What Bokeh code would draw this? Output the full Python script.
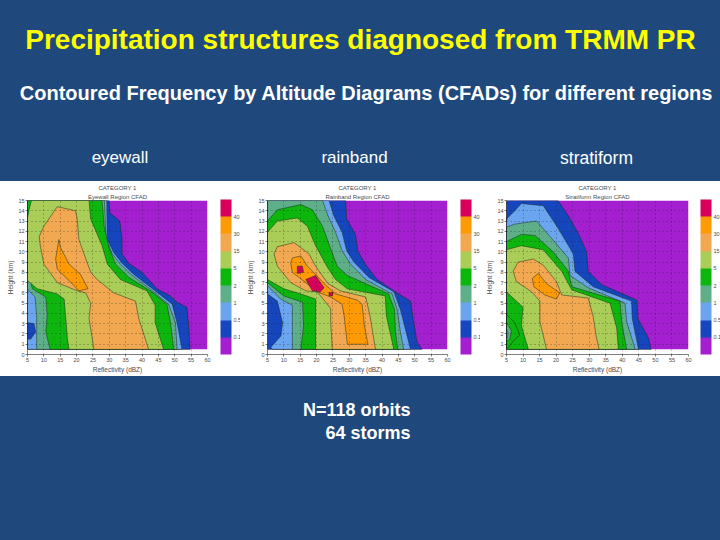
from bokeh.embed import file_html
from bokeh.layouts import column, row
from bokeh.models import (ColorBar, ColumnDataSource, FixedTicker, Label,
                          LinearColorMapper, Range1d, Title)
from bokeh.plotting import figure
from bokeh.resources import INLINE

# ---------- texts ----------
slide_title = "Precipitation structures diagnosed from TRMM PR"
slide_subtitle = "Contoured Frequency by Altitude Diagrams (CFADs) for different regions"
panel_headings = ["eyewall", "rainband", "stratiform"]
panel_titles = ["Eyewall Region CFAD", "Rainband Region CFAD", "Stratiform Region CFAD"]
footer_lines = ["N=118 orbits", "64 storms"]

# ---------- scale ----------
level_labels = ["0.1", "0.5", "1", "2", "5", "15", "30", "40"]
level_colours = ["#a31fcf", "#1546bd", "#6ba5f0", "#5fae8a", "#0cb60c",
                 "#aacd58", "#f1a850", "#ff9a05", "#d8005c"]
x_ticks = [5, 10, 15, 20, 25, 30, 35, 40, 45, 50, 55, 60]
y_ticks = list(range(16))

# ---------- contour regions: band index, dBZ, km ----------
eyewall_band = [1, 2, 1, 3, 4, 5, 6, 7]
eyewall_x = [
    [5, 29.9, 30.2, 33.2, 33.9, 33.9, 35.9, 40, 44.6, 48.7, 50.7, 53.7, 54.2, 54.7, 5],
    [5, 29.2, 29.4, 31.4, 33.9, 37.5, 44, 49.2, 50.7, 52.2, 5],
    [5, 7, 7.5, 6, 5],
    [5, 28.5, 29, 30.9, 33.4, 37, 43.6, 48.1, 50.2, 50.7, 7.8, 7.8, 7.3, 5.5, 5],
    [5, 27.8, 28.4, 29.9, 31.9, 36, 43, 47.6, 48.7, 49.7, 11.9, 10.6, 11, 10.6, 6.5, 5],
    [6.2, 23.8, 24.3, 27.8, 29.4, 33.4, 41.5, 44, 44, 46.6, 17.7, 17.2, 16.7, 16.2, 14.1, 8, 5, 5, 5.5],
    [14.1, 19.7, 20.2, 20.7, 24.3, 26.3, 31.4, 38, 39, 41, 42, 25.3, 24.8, 23.8, 24.3, 22.8, 20.2, 14.1, 10, 8.9, 8.6, 10],
    [14.6, 15.1, 17.7, 21.2, 23.5, 20.7, 17.7, 14.1, 13.6],
]
eyewall_y = [
    [15, 15, 13.8, 13, 11.3, 9.8, 8.9, 8, 6.4, 5.7, 5.1, 4.6, 3.1, 0.5, 0.5],
    [15, 15, 11.2, 9.9, 8.9, 7.8, 6.2, 4.9, 3.1, 0.5, 0.5],
    [3.1, 3, 2.2, 1.5, 1.5],
    [15, 15, 11.2, 9.8, 8.8, 7.7, 6.1, 4.9, 3.1, 0.5, 0.5, 3.8, 5.6, 6.2, 6.4],
    [15, 15, 12.5, 10.4, 8.8, 7.5, 6.1, 4.9, 3.1, 0.5, 0.5, 2.2, 3.8, 5.6, 6.4, 8.2],
    [15, 15, 13.2, 10.6, 8.8, 7.3, 6.2, 4.8, 3.1, 0.5, 0.5, 1.5, 3.5, 5.4, 5.9, 6.4, 7.2, 13.3, 14.1],
    [14.4, 14, 13.2, 11.2, 8, 7.3, 6, 5.2, 3.5, 1.5, 0.5, 0.5, 1.5, 3.5, 5, 6, 6.2, 7, 8.8, 10.6, 11.5, 12.5],
    [11.2, 10.4, 8.8, 7.8, 6.4, 6.2, 7.2, 8.3, 9.3],
]

rainband_band = [1, 2, 3, 4, 5, 6, 7, 8, 8, 8]
rainband_x = [
    [5, 28.9, 29.2, 31.9, 32.6, 34.9, 38.5, 44.6, 48.7, 49.7, 50.7, 52.2, 5],
    [5, 23.8, 25.3, 27.8, 29.2, 31.4, 36, 43.6, 45.6, 47.1, 48.7, 6.5, 6, 9.1, 9.6, 8, 5],
    [5, 21.8, 23.5, 25.8, 27.8, 30.4, 35, 43.1, 44.6, 45.6, 46.6, 12.6, 12.6, 9, 5],
    [5, 8, 15.2, 18.7, 21.8, 24.3, 26.3, 29.4, 42, 43.8, 44.1, 44.8, 15.2, 16, 15.7, 10, 5],
    [5, 8, 14.1, 17.2, 19.7, 23.3, 25.8, 29.4, 41, 41.3, 43.6, 19.7, 19.7, 15.2, 10, 5],
    [7, 8, 13.1, 17.7, 19.7, 23.5, 27.3, 35, 36.3, 38, 24.8, 24.3, 24.3, 20.2, 16.7, 12.1, 8],
    [12.1, 12.6, 15.2, 17.2, 19.7, 22.3, 25.8, 32.4, 33.9, 34.6, 35.7, 29.4, 28.4, 27.8, 24.3, 20.2, 16.7, 12.6],
    [16.7, 19.7, 22.3, 21.2, 18.7],
    [14.1, 15.7, 16, 14.1],
    [23.8, 25.1, 24.8, 23.8],
]
rainband_y = [
    [15, 15, 13.2, 11.7, 10.1, 8.8, 7.3, 6, 5.2, 3.1, 1.2, 0.5, 0.5],
    [15, 15, 13.5, 11.9, 10.1, 9, 7.5, 6.1, 4.4, 2.5, 0.5, 0.5, 0.7, 1.8, 3.1, 5.2, 5.9],
    [15, 15, 13.5, 11.9, 10.1, 8.8, 7.3, 5.9, 4.4, 2.2, 0.5, 0.5, 4.8, 5.4, 6.7],
    [13, 14.1, 14.6, 14.1, 12.5, 10.3, 8.6, 7.7, 5.9, 4.4, 2.2, 0.5, 0.5, 2.8, 5.1, 5.7, 7],
    [11.9, 13, 13.3, 12.5, 10.6, 8.5, 7.3, 6.4, 5.7, 3.8, 0.5, 0.5, 5.4, 5.9, 6.4, 7.3],
    [9.8, 10.5, 10.9, 9.8, 8.6, 6.9, 6.2, 5.6, 3.8, 0.5, 0.5, 3.1, 4.5, 6.1, 6.2, 7, 8.6],
    [8.9, 9.4, 9.6, 8.6, 7.8, 6.9, 5.9, 5.3, 4.9, 2.8, 1, 1, 3.8, 4.9, 5.6, 6.1, 7, 8],
    [7.3, 7.7, 6.5, 6.1, 6.2],
    [8.6, 8.6, 8, 7.9],
    [6.05, 6.05, 5.7, 5.7],
]

stratiform_band = [1, 2, 3, 4, 5, 6, 7, 4, 3, 2, 1]
stratiform_x = [
    [5, 20.6, 23.7, 26.7, 29.2, 29.7, 33.8, 44.4, 44.7, 47.9, 48.7, 5],
    [5, 7.5, 9.5, 16.1, 20.6, 25.2, 25.7, 31.2, 42.8, 43, 44.9, 5],
    [5, 7.5, 14.1, 18.1, 23.7, 24.2, 29.7, 40.8, 41.3, 43.9, 5],
    [5, 9.5, 13.6, 19.1, 23.7, 24.7, 39.3, 39.8, 41.3, 5],
    [5, 9.5, 16.1, 21.7, 24.7, 36.3, 38.3, 38.8, 11.6, 9.5, 10, 5],
    [8.5, 13.1, 16.1, 20.1, 21.7, 29.7, 31.2, 32.2, 33, 17.1, 15.1, 15.1, 12.6, 8, 7],
    [12.8, 14.6, 17.1, 21.1, 20.1, 16.6, 13.3],
    [5, 7.5, 9, 7, 5.5, 5],
    [5, 6.5, 6, 5],
    [5, 5.5, 5.3, 5],
    [5, 5.2, 5],
]
stratiform_y = [
    [15, 15, 13.5, 11.8, 10, 8.1, 6.8, 5.3, 3.5, 1.6, 0.5, 0.5],
    [13.2, 14, 14.7, 14.5, 12.3, 9.8, 8.1, 6.6, 5.2, 3.5, 0.5, 0.5],
    [12.4, 12.7, 13, 11.5, 9.4, 7.7, 6.5, 5, 3.2, 0.5, 0.5],
    [11, 11.7, 11.6, 10, 8.1, 6.6, 5.2, 3.2, 0.5, 0.5],
    [10.2, 10.6, 10.2, 8.1, 6.3, 5, 2.6, 0.5, 0.5, 2.8, 4.6, 6.1],
    [9, 9.3, 8.7, 7.1, 5.8, 5.5, 3.7, 1.6, 0.5, 0.5, 3.2, 5.2, 6.1, 7.1, 8.1],
    [7.4, 7.9, 6.9, 6, 5.4, 5.8, 6.6],
    [3.9, 3.1, 1.9, 1.3, 0.65, 0.6],
    [3.1, 2.3, 1.5, 1.3],
    [2.4, 2.1, 1.6, 1.6],
    [13.4, 13.2, 13],
]

# ---------- styling ----------
SLIDE = "#1f497d"
FONT = "Liberation Sans"
GREY = "#4a4a4a"


def band_figure(top, bottom, left, right, sub, xs, ys, bands, bar_x):
    height = 195
    p = figure(width=240, height=height, output_backend="svg", toolbar_location=None,
               x_range=Range1d(5, 60), y_range=Range1d(0, 15),
               min_border_left=left, min_border_right=right,
               min_border_top=top, min_border_bottom=bottom,
               background_fill_color="white", border_fill_color="white",
               outline_line_color=None)
    p.patch([5, 60, 60, 5], [0.5, 0.5, 15, 15], fill_color=level_colours[0], line_color=None)
    src = ColumnDataSource(dict(xs=xs, ys=ys, c=[level_colours[b] for b in bands]))
    p.patches("xs", "ys", source=src, fill_color="c", line_color="#1c2a1c", line_width=0.5,
              line_join="round")

    p.xaxis.ticker = FixedTicker(ticks=x_ticks)
    p.yaxis.ticker = FixedTicker(ticks=y_ticks)
    p.xaxis.axis_label = "Reflectivity (dBZ)"
    p.yaxis.axis_label = "Height (km)"
    for ax in (p.xaxis[0], p.yaxis[0]):
        ax.major_label_text_font = FONT
        ax.major_label_text_font_size = "5.5px"
        ax.major_label_text_color = GREY
        ax.axis_label_text_font = FONT
        ax.axis_label_text_font_size = "6.5px"
        ax.axis_label_text_font_style = "normal"
        ax.axis_label_text_color = GREY
        ax.axis_label_standoff = 1
        ax.major_label_standoff = 1
        ax.major_tick_in = 0
        ax.major_tick_out = 2
        ax.minor_tick_line_color = None
        ax.axis_line_width = 0.5
        ax.major_tick_line_width = 0.5
    p.grid.grid_line_color = "#222222"
    p.grid.grid_line_dash = [1, 3]
    p.grid.grid_line_width = 0.5
    p.grid.level = "overlay"

    mapper = LinearColorMapper(palette=level_colours, low=0, high=len(level_colours))
    cb = ColorBar(color_mapper=mapper, location=(bar_x, 0), width=11,
                  height=height - top - bottom,
                  padding=0, margin=0, bar_line_color=None,
                  ticker=FixedTicker(ticks=list(range(1, len(level_labels) + 1))),
                  major_label_overrides={i + 1: t for i, t in enumerate(level_labels)},
                  major_label_text_font=FONT, major_label_text_font_size="5.5px",
                  major_label_text_color=GREY, major_tick_line_color=None,
                  minor_tick_line_color=None, label_standoff=2)
    p.add_layout(cb)

    p.add_layout(Title(text=sub, align="center", text_font=FONT, text_font_size="6px",
                       text_font_style="normal", text_color=GREY, standoff=2,
                       offset=0), "above")
    p.add_layout(Title(text="CATEGORY 1", align="center", text_font=FONT, text_font_size="6px",
                       text_font_style="normal", text_color=GREY, standoff=0,
                       offset=0), "above")
    return p


def text_figure(width, height, labels):
    p = figure(width=width, height=height, output_backend="svg", toolbar_location=None,
               x_range=Range1d(0, width), y_range=Range1d(0, height),
               background_fill_color=SLIDE, border_fill_color=SLIDE, outline_line_color=None,
               min_border=0, x_axis_type=None, y_axis_type=None)
    p.grid.visible = False
    for text, x, y, size, colour, style, align in labels:
        p.add_layout(Label(x=x, y=height - y, x_units="screen", y_units="screen", text=text,
                           text_font=FONT, text_font_size=size, text_color=colour,
                           text_font_style=style, text_align=align,
                           text_baseline="alphabetic"))
    return p


header = text_figure(720, 181, [
    (slide_title, 360, 39, "28px", "#ffff00", "bold", "center"),
    (slide_subtitle, 366, 92, "20px", "white", "bold", "center"),
    (panel_headings[0], 119.5, 157, "17px", "white", "normal", "center"),
    (panel_headings[1], 354, 157, "17px", "white", "normal", "center"),
    (panel_headings[2], 596, 157, "17.5px", "white", "normal", "center"),
])
footer = text_figure(720, 164, [
    (footer_lines[0], 410, 33, "18px", "white", "bold", "right"),
    (footer_lines[1], 410, 56, "18px", "white", "bold", "right"),
])

# frames: top of frame 199-200, bottom 354-355, as in the reference
p1 = band_figure(18, 22, 27, 33, panel_titles[0], eyewall_x, eyewall_y, eyewall_band, 193)
p2 = band_figure(18, 22, 27, 33, panel_titles[1], rainband_x, rainband_y, rainband_band, 193)
p3 = band_figure(19, 21, 26, 32, panel_titles[2], stratiform_x, stratiform_y, stratiform_band, 194)

panels = row(p1, p2, p3, spacing=0, margin=0, styles={"background": "white"})
page = column(header, panels, footer, spacing=0, margin=0,
              styles={"background": SLIDE})

open("out.html", "w").write(file_html(page, INLINE))
